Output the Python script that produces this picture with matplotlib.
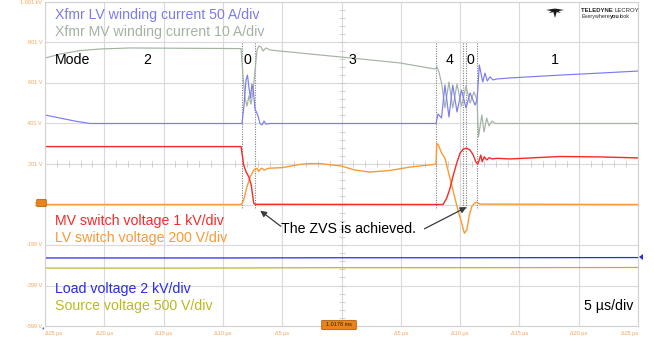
import matplotlib
matplotlib.use("Agg")
import matplotlib.pyplot as plt
from matplotlib.patches import FancyBboxPatch, Polygon

plt.rcParams['font.family'] = ['Liberation Sans', 'DejaVu Sans']

W, H = 654, 339

# x: time in µs (5 µs/div), y: screen value on the 200 V/div grid
lv_cur_t = [-25.0, -23.74, -22.47, -21.21, -8.39, -8.22, -8.05, -7.93, -7.80, -7.67, -7.55, -7.42,
            -7.29, -7.17, -7.04, -6.87, -6.70, -6.53, -6.37, -6.03, 7.97, 8.14, 8.43, 8.72, 9.06,
            9.38, 9.74, 10.12, 10.50, 10.84, 11.26, 11.43, 11.62, 11.91, 12.10, 12.29, 12.52, 12.77,
            13.11, 14.21, 18.42, 21.80, 25.0]
lv_cur_v = [443, 428, 413, 401, 401, 492, 616, 640, 576, 527, 596, 557,
            468, 458, 438, 401, 394, 413, 398, 401, 401, 448, 428, 591, 433,
            591, 458, 566, 478, 552, 492, 517, 690, 606, 650, 611, 631, 616,
            621, 626, 640, 650, 660]

mv_cur_t = [-25.0, -23.74, -22.05, -20.37, -17.84, -8.47, -8.31, -8.14, -7.97, -7.80, -7.63, -7.46,
            -7.29, -7.12, -6.96, -6.79, -6.62, -6.37, -6.03, -5.19, 0.0, 4.93, 7.88, 8.05, 8.22,
            8.45, 8.72, 9.06, 9.38, 9.74, 10.12, 10.50, 10.84, 11.17, 11.43, 11.55, 11.83, 12.02,
            12.24, 12.44, 12.69, 12.94, 25.0]
mv_cur_v = [724, 744, 761, 769, 774, 771, 640, 527, 487, 537, 497, 557,
            665, 764, 784, 779, 759, 774, 764, 759, 729, 700, 670, 680, 655,
            596, 478, 606, 478, 596, 487, 586, 502, 557, 517, 334, 443, 359,
            428, 389, 413, 401, 401]

mv_sw_t = [-25.0, -8.47, -8.25, -8.05, -7.82, -7.61, -7.40, -7.29, 8.56, 8.87, 9.15, 9.43, 9.71,
           9.99, 10.27, 10.56, 10.84, 11.11, 11.32, 11.48, 11.62, 11.74, 11.87, 12.04, 12.24,
           12.44, 12.69, 13.11, 14.21, 18.42, 21.80, 25.0]
mv_sw_v = [287, 287, 196, 163, 138, 97, 7, 2, 1, 32, 81, 147, 204,
           254, 275, 279, 270, 245, 212, 200, 221, 245, 212, 237, 221,
           232, 226, 229, 226, 238, 236, 231]

lv_sw_t = [-25.0, -8.45, -8.25, -7.97, -7.69, -7.40, -7.12, -6.98, -6.83, -6.70, -6.53, -6.14,
           -5.02, -3.50, -2.66, -1.81, 0.0, 1.14, 2.40, 4.09, 5.78, 7.97, 8.03, 8.16, 8.45, 8.73,
           9.01, 9.29, 9.57, 9.85, 10.14, 10.36, 10.56, 10.78, 10.98, 11.20, 11.40, 11.68, 25.0]
lv_sw_v = [1, 1, 23, 89, 138, 171, 180, 164, 176, 180, 171, 180,
           183, 199, 203, 203, 191, 171, 161, 169, 186, 200, 303, 295, 254, 229,
           163, 97, 32, -35, -92, -141, -125, -51, -10, 7, 12, 3, 1]

load_t = [-25.0, -10.0, 0.0, 10.0, 25.0]
load_v = [-263, -263, -262, -262, -261]

src_t = [-25.0, -12.0, 0.0, 12.0, 25.0]
src_v = [-313, -313, -311, -311, -310]

mode_edges = [-8.39, -7.32, 7.97, 10.24, 10.50, 11.43]
mode_names = ['2', '0', '3', '4', '0', '1']
mode_pos = [-16.4, -7.9, 0.9, 9.15, 10.84, 18.0]

ytick_vals = [1001, 801, 601, 401, 201, 1, -199, -399, -599]
ytick_text = ['1.001 kV', '801 V', '601 V', '401 V', '201 V', '1 V', '-199 V', '-399 V', '-599 V']
xtick_vals = [-25, -20, -15, -10, -5, 5, 10, 15, 20, 25]
xtick_text = ['Δ25 µs', 'Δ20 µs', 'Δ15 µs', 'Δ10 µs', 'Δ5 µs',
              'Δ5 µs', 'Δ10 µs', 'Δ15 µs', 'Δ20 µs', 'Δ25 µs']

c_lvcur = '#7b7bf2'
c_mvcur = '#a3b3a3'
c_red = '#f52a2a'
c_orange = '#f99a35'
c_load = '#2a2aee'
c_src = '#b9b925'
c_tick = '#f5a55a'


def fx(x, y):
    return x / W, 1 - y / H


fig = plt.figure(figsize=(W / 100, H / 100), dpi=100)
ax = fig.add_axes([45 / W, 13 / H, 593 / W, 324 / H])
ax.set_xlim(-25, 25)
ax.set_ylim(-599, 1001)
ax.set_xticks(range(-25, 26, 5))
ax.set_yticks(range(-599, 1002, 200))
ax.tick_params(length=0, labelbottom=False, labelleft=False)
ax.grid(color='#dadada', lw=0.8)
ax.set_axisbelow(True)
for s in ax.spines.values():
    s.set_color('#d2d2d2')
    s.set_linewidth(0.8)

# minor marks on the centre lines
ax.plot([t / 1.0 for t in range(-25, 26)], [201] * 51, ls='none', marker='|', ms=4,
        mew=0.6, color='#c8c8c8')
ax.plot([0] * 41, [-599 + 40 * i for i in range(41)], ls='none', marker='_', ms=4,
        mew=0.6, color='#c8c8c8')

# mode boundaries
for e in mode_edges:
    ax.plot([e, e], [798, -21], color='#808080', lw=0.8, ls=(0, (1, 1.2)))

ax.plot(load_t, load_v, color=c_load, lw=0.9)
ax.plot(src_t, src_v, color=c_src, lw=0.9)
ax.plot(mv_cur_t, mv_cur_v, color=c_mvcur, lw=0.85)
ax.plot(lv_cur_t, lv_cur_v, color=c_lvcur, lw=0.85)
ax.plot(lv_sw_t, lv_sw_v, color=c_orange, lw=1.0)
ax.plot(mv_sw_t, mv_sw_v, color=c_red, lw=1.0)

# mode labels
ax.text(-24.2, 715, 'Mode', fontsize=10.2, va='center', ha='left')
for name, p in zip(mode_names, mode_pos):
    ax.text(p, 715, name, fontsize=10.2, va='center', ha='center')

# channel legends
legend = [('Xfmr LV winding current 50 A/div', c_lvcur, 15),
          ('Xfmr MV winding current 10 A/div', c_mvcur, 32),
          ('MV switch voltage 1 kV/div', c_red, 221),
          ('LV switch voltage 200 V/div', c_orange, 238),
          ('Load voltage 2 kV/div', c_load, 289),
          ('Source voltage 500 V/div', c_src, 306)]
for txt, col, yy in legend:
    fig.text(*fx(55, yy), txt, color=col, fontsize=10.2, va='center', ha='left')

fig.text(*fx(633, 306), '5 µs/div', fontsize=10.2, va='center', ha='right')

# ZVS annotation
ax.text(-5.1, -118, 'The ZVS is achieved.', fontsize=10.2, va='center', ha='left')
arrow = dict(arrowstyle='-|>', color='#3a3a3a', lw=0.9, mutation_scale=9)
ax.annotate('', xy=(-7.04, -21), xytext=(-4.93, -115), arrowprops=arrow)
ax.annotate('', xy=(10.75, -6), xytext=(6.79, -125), arrowprops=arrow)

# tick labels
for v, s in zip(ytick_vals, ytick_text):
    ax.text(-25.25, v, s, fontsize=4, color=c_tick, ha='right', va='center')
for i, (t, s) in enumerate(zip(xtick_vals, xtick_text)):
    ha = 'left' if i == 0 else ('right' if i == len(xtick_vals) - 1 else 'center')
    ax.text(t, -634, s, fontsize=4, color=c_tick, ha=ha, va='center')

# scope markers
fig.patches.append(FancyBboxPatch((38 / W, 1 - 206 / H), 7 / W, 6 / H,
                                  boxstyle='round,pad=0.002', fc='#e8841a', ec='#b05a00',
                                  lw=0.5, transform=fig.transFigure))
fig.patches.append(FancyBboxPatch((323 / W, 1 - 329 / H), 32 / W, 8 / H,
                                  boxstyle='round,pad=0.002', fc='#e8841a', ec='#a05000',
                                  lw=0.5, transform=fig.transFigure))
fig.text(*fx(339, 325), '1.0178 ms', fontsize=4, color='#3a2000', ha='center', va='center')
fig.patches.append(Polygon([(643 / W, 1 - 254 / H), (643 / W, 1 - 260 / H), (639 / W, 1 - 257 / H)],
                           closed=True, fc=c_load, ec='none', transform=fig.transFigure))
fig.text(*fx(43, 330), '*', fontsize=5, color=c_load, ha='center', va='center')

# logo
wings = [[(546, 10), (555, 8.5), (553, 11.5)],
         [(564, 10), (555, 8.5), (557, 11.5)],
         [(552.5, 9), (557.5, 9), (555, 18)],
         [(549, 13), (553, 10), (554, 12)],
         [(561, 13), (557, 10), (556, 12)]]
for w in wings:
    fig.patches.append(Polygon([fx(x, y) for x, y in w], closed=True, fc='#1a1a1a', ec='none',
                               transform=fig.transFigure))

renderer = fig.canvas.get_renderer()


def text_run(x, y, parts, size):
    # place consecutive pieces of text one after the other
    for s, weight in parts:
        t = fig.text(*fx(x, y), s, fontsize=size, fontweight=weight, color='#262626',
                     ha='left', va='center')
        x += t.get_window_extent(renderer).width


text_run(581, 10, [('TELEDYNE ', 'bold'), ('LECROY', 'normal')], 4.3)
text_run(581, 16.5, [('Everywhere', 'normal'), ('you', 'bold'), ('look', 'normal')], 3.9)

fig.savefig('out.png', dpi=100)
